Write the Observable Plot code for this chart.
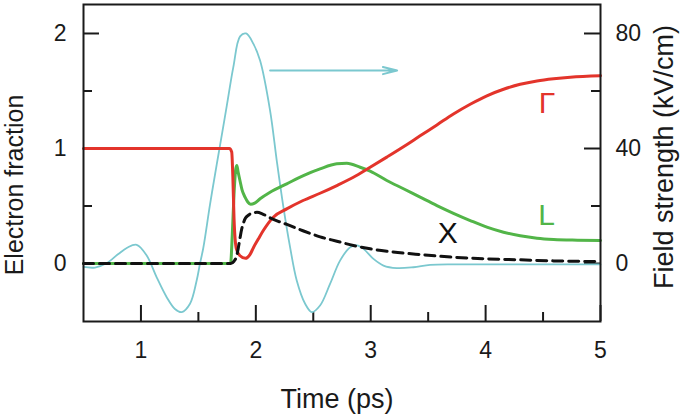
<!DOCTYPE html>
<html>
<head>
<meta charset="utf-8">
<script src="https://cdn.jsdelivr.net/npm/d3@7"></script>
<script src="https://cdn.jsdelivr.net/npm/@observablehq/plot@0.6"></script>
<style>
  html, body { margin: 0; padding: 0; background: #fff; }
</style>
</head>
<body>
<div id="chart"></div>
<script>
// Γ valley electron fraction (red)
const timeGamma = [0.5, 1.0, 1.5, 1.77, 1.79, 1.80, 1.81, 1.83, 1.86, 1.91, 1.95, 1.98, 2.02, 2.065, 2.152, 2.269, 2.411, 2.559, 2.705, 2.849, 2.995, 3.14, 3.285, 3.43, 3.576, 3.72, 3.866, 4.011, 4.156, 4.301, 4.447, 4.592, 4.737, 5.0];
const gammaFrac = [1, 1, 1, 1.0, 0.97, 0.75, 0.4, 0.13, 0.07, 0.045, 0.08, 0.14, 0.21, 0.287, 0.403, 0.475, 0.548, 0.611, 0.678, 0.75, 0.837, 0.925, 1.015, 1.11, 1.205, 1.3, 1.385, 1.458, 1.515, 1.558, 1.587, 1.606, 1.62, 1.633];

// L valley electron fraction (green)
const timeL = [0.5, 1.0, 1.5, 1.78, 1.795, 1.81, 1.825, 1.835, 1.845, 1.862, 1.88, 1.906, 1.93, 1.955, 1.99, 2.037, 2.124, 2.269, 2.414, 2.559, 2.705, 2.792, 2.908, 2.995, 3.14, 3.285, 3.43, 3.576, 3.72, 3.866, 4.011, 4.156, 4.301, 4.447, 4.592, 4.8, 5.0];
const lFrac = [0, 0, 0, 0, 0.25, 0.6, 0.82, 0.852, 0.8, 0.72, 0.64, 0.577, 0.535, 0.515, 0.525, 0.563, 0.62, 0.693, 0.765, 0.823, 0.867, 0.872, 0.837, 0.803, 0.722, 0.65, 0.577, 0.504, 0.437, 0.374, 0.316, 0.272, 0.241, 0.22, 0.209, 0.203, 0.2];

// X valley electron fraction (black dashed)
const timeX = [0.5, 1.0, 1.5, 1.78, 1.81, 1.834, 1.85, 1.862, 1.877, 1.891, 1.91, 1.935, 1.97, 2.01, 2.06, 2.124, 2.2, 2.27, 2.41, 2.56, 2.705, 2.849, 2.995, 3.14, 3.43, 3.72, 4.011, 4.301, 4.592, 5.0];
const xFrac = [0, 0, 0, 0, 0.02, 0.07, 0.15, 0.22, 0.30, 0.35, 0.395, 0.42, 0.44, 0.445, 0.43, 0.397, 0.365, 0.34, 0.285, 0.232, 0.194, 0.157, 0.128, 0.107, 0.078, 0.055, 0.041, 0.032, 0.023, 0.017];

// THz field strength, kV/cm (cyan, right axis)
const timeField = [0.5, 0.6, 0.7, 0.8, 0.88, 0.963, 1.05, 1.137, 1.224, 1.296, 1.355, 1.427, 1.485, 1.514, 1.543, 1.601, 1.659, 1.688, 1.747, 1.804, 1.863, 1.915, 1.979, 2.037, 2.124, 2.182, 2.24, 2.298, 2.356, 2.429, 2.487, 2.559, 2.646, 2.733, 2.821, 2.879, 2.937, 3.024, 3.111, 3.227, 3.372, 3.517, 3.72, 4.0, 4.5, 5.0];
const fieldKV = [-1.2, -1.4, 0.1, 3.2, 5.5, 6.5, 2.8, -4.8, -11.7, -15.8, -16.9, -14, -5.9, 0, 5.5, 20.5, 34.3, 41, 54.8, 68.3, 79, 80, 76.4, 70.6, 53.2, 35.8, 19.6, 5.7, -5.9, -14, -16.9, -14.6, -7.1, 1, 5.7, 6.3, 5.1, 1.6, -0.7, -1.6, -1.3, -0.5, -0.3, -0.3, -0.3, -0.3];

// Axis ticks
const timeTicks = [1, 2, 3, 4, 5];
const timeMinor = [1.5, 2.5, 3.5, 4.5];
const fracTicks = [0, 1, 2];
const fracMinor = [0.5, 1.5];
const fieldTicks = [0, 40, 80];
const fieldMinor = [20, 60];
const fieldPerFrac = 40; // right axis: 40 kV/cm per unit of electron fraction

// Annotations
const labelText = ["Γ", "L", "X"];
const labelTime = [4.535, 4.53, 3.67];
const labelFrac = [1.39, 0.42, 0.26];
const labelColor = ["#e3342b", "#52b548", "#111"];
const arrowTime = [2.124, 3.23];
const arrowField = 67.1;

const red = "#e3342b", green = "#52b548", cyan = "#7bc8cf", ink = "#1a1a1a";

const gammaData = timeGamma.map((t, i) => ({t, v: gammaFrac[i]}));
const lData = timeL.map((t, i) => ({t, v: lFrac[i]}));
const xData = timeX.map((t, i) => ({t, v: xFrac[i]}));
const fieldData = timeField.map((t, i) => ({t, e: fieldKV[i]}));
const labels = labelText.map((s, i) => ({s, t: labelTime[i], v: labelFrac[i], c: labelColor[i]}));

const W = 685, H = 418, mL = 83, mR = 85, mT = 4, mB = 97;
const innerH = H - mT - mB, innerW = W - mL - mR;
const font = "Liberation Sans, Arial, Helvetica, sans-serif";

const chart = Plot.plot({
  width: W, height: H,
  marginLeft: mL, marginRight: mR, marginTop: mT, marginBottom: mB,
  style: {fontFamily: font, background: "#fff", color: ink, overflow: "visible"},
  x: {domain: [0.5, 5], axis: null},
  y: {domain: [-0.504, 2.252], axis: null},
  marks: [
    // bottom ticks (inward)
    Plot.tickX(timeTicks, {x: d => d, stroke: ink, strokeWidth: 2, insetTop: innerH - 16}),
    Plot.tickX(timeMinor, {x: d => d, stroke: ink, strokeWidth: 2, insetTop: innerH - 9}),
    // left ticks
    Plot.tickY(fracTicks, {y: d => d, stroke: ink, strokeWidth: 2, insetRight: innerW - 16}),
    Plot.tickY(fracMinor, {y: d => d, stroke: ink, strokeWidth: 2, insetRight: innerW - 9}),
    // right ticks
    Plot.tickY(fieldTicks, {y: d => d / fieldPerFrac, stroke: ink, strokeWidth: 2, insetLeft: innerW - 16}),
    Plot.tickY(fieldMinor, {y: d => d / fieldPerFrac, stroke: ink, strokeWidth: 2, insetLeft: innerW - 9}),
    // field (cyan) on right scale
    Plot.line(fieldData, {x: "t", y: d => d.e / fieldPerFrac, stroke: cyan, strokeWidth: 1.8, curve: "catmull-rom"}),
    Plot.arrow([0], {x1: () => arrowTime[0], x2: () => arrowTime[1], y1: () => arrowField / fieldPerFrac, y2: () => arrowField / fieldPerFrac,
      stroke: cyan, strokeWidth: 2, headLength: 11, headAngle: 28}),
    Plot.line(lData, {x: "t", y: "v", stroke: green, strokeWidth: 3, curve: "monotone-x"}),
    Plot.line(gammaData, {x: "t", y: "v", stroke: red, strokeWidth: 3, curve: "monotone-x"}),
    Plot.line(xData, {x: "t", y: "v", stroke: "#111", strokeWidth: 3, strokeDasharray: "10,6", curve: "monotone-x"}),
    // annotations
    Plot.text(labels, {x: "t", y: "v", text: "s", fill: "c", fontSize: 30, textAnchor: "middle", lineAnchor: "middle"}),
    // frame
    Plot.frame({stroke: ink, strokeWidth: 2}),
    // tick labels
    Plot.text(timeTicks, {x: d => d, text: d => String(d), frameAnchor: "bottom", dy: 29, fontSize: 23, fill: ink, lineAnchor: "middle"}),
    Plot.text(fracTicks, {y: d => d, text: d => String(d), frameAnchor: "left", dx: -17, textAnchor: "end", fontSize: 23, fill: ink, lineAnchor: "middle"}),
    Plot.text(fieldTicks, {y: d => d / fieldPerFrac, text: d => String(d), frameAnchor: "right", dx: 15, textAnchor: "start", fontSize: 23, fill: ink, lineAnchor: "middle"}),
    // axis titles
    Plot.text(["Time (ps)"], {frameAnchor: "bottom", dx: -5, dy: 78, fontSize: 27, fill: ink, textAnchor: "middle", lineAnchor: "middle"}),
    Plot.text(["Electron fraction"], {frameAnchor: "left", dx: -69, dy: 22, rotate: -90, fontSize: 25, fill: ink, textAnchor: "middle", lineAnchor: "middle"}),
    Plot.text(["Field strength (kV/cm)"], {frameAnchor: "right", dx: 64, dy: -6, rotate: -90, fontSize: 27, fill: ink, textAnchor: "middle", lineAnchor: "middle"})
  ]
});
document.getElementById("chart").appendChild(chart);
</script>
</body>
</html>
